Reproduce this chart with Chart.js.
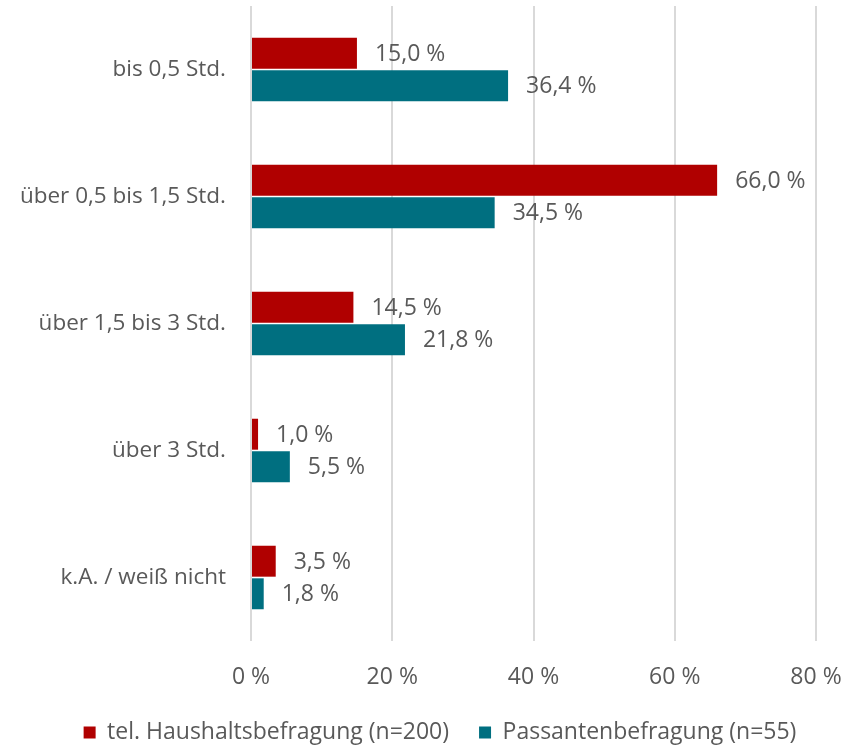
<!DOCTYPE html>
<html>
<head>
<meta charset="utf-8">
<script src="https://cdn.jsdelivr.net/npm/chart.js@4/dist/chart.umd.min.js"></script>
<style>
  html, body { margin: 0; padding: 0; background: #ffffff; }
  #wrap { width: 848px; height: 745px; position: relative; }
</style>
</head>
<body>
<div id="wrap"><canvas id="c" width="848" height="745"></canvas></div>
<script>
const categories = ['bis 0,5 Std.', 'über 0,5 bis 1,5 Std.', 'über 1,5 bis 3 Std.', 'über 3 Std.', 'k.A. / weiß nicht'];
const seriesNames = ['tel. Haushaltsbefragung (n=200)', 'Passantenbefragung (n=55)'];
const haushaltValues = [15.0, 66.0, 14.5, 1.0, 3.5];
const passantenValues = [36.4, 34.5, 21.8, 5.5, 1.8];
const xTicks = [0, 20, 40, 60, 80];

const TEXT = '#595959';
const FONT = "'Open Sans', 'Noto Sans', sans-serif";

const fmt = v => v.toFixed(1).replace('.', ',') + ' %';

const valueLabels = {
  id: 'valueLabels',
  afterDatasetsDraw(chart) {
    const ctx = chart.ctx;
    ctx.save();
    ctx.font = '23px ' + FONT;
    ctx.fillStyle = TEXT;
    ctx.textAlign = 'left';
    ctx.textBaseline = 'middle';
    chart.data.datasets.forEach((ds, di) => {
      const meta = chart.getDatasetMeta(di);
      meta.data.forEach((bar, i) => {
        ctx.fillText(fmt(ds.data[i]), bar.x + 18, bar.y + 1);
      });
    });
    ctx.restore();
  }
};

const layoutTweak = {
  id: 'layoutTweak',
  afterLayout(chart) {
    const lg = chart.legend;
    if (lg) {
      const dx = 32, dy = 9;
      lg.left += dx; lg.right += dx;
      lg.top += dy; lg.bottom += dy;
    }
    // let the x tick labels extend below the (compact) axis box without clipping
    chart.scales.x.bottom = chart.height;
  }
};

new Chart(document.getElementById('c'), {
  type: 'bar',
  data: {
    labels: categories,
    datasets: [
      { label: seriesNames[0], data: haushaltValues, backgroundColor: '#B00000',
        categoryPercentage: 0.513, barPercentage: 0.95 },
      { label: seriesNames[1], data: passantenValues, backgroundColor: '#006F80',
        categoryPercentage: 0.513, barPercentage: 0.95 }
    ]
  },
  options: {
    indexAxis: 'y',
    responsive: false,
    animation: false,
    devicePixelRatio: 1,
    layout: { autoPadding: false, padding: { top: 6, right: 32, left: 0, bottom: 0 } },
    font: { family: FONT },
    scales: {
      x: {
        min: 0, max: 80,
        afterBuildTicks(scale) { scale.ticks = xTicks.map(v => ({ value: v })); },
        grid: { color: '#D9D9D9', lineWidth: 2, drawTicks: false },
        border: { display: false },
        afterFit(scale) {
          scale.height = 41;
          scale.paddingLeft = 0; scale.paddingRight = 0;
          scale.paddingTop = 0; scale.paddingBottom = 0;
        },
        ticks: {
          padding: 23,
          color: TEXT,
          font: { size: 23, family: FONT },
          callback: v => v + ' %'
        }
      },
      y: {
        grid: { display: false, drawTicks: false },
        border: { display: false },
        afterFit(scale) {
          scale.width = 251;
          scale.paddingLeft = 0; scale.paddingRight = 0;
          scale.paddingTop = 0; scale.paddingBottom = 0;
        },
        ticks: {
          padding: 25,
          color: TEXT,
          font: { size: 22.5, family: FONT }
        }
      }
    },
    plugins: {
      legend: {
        position: 'bottom',
        labels: {
          color: TEXT,
          font: { size: 23, family: FONT },
          boxWidth: 12,
          boxHeight: 12,
          padding: 30
        }
      },
      tooltip: { enabled: false }
    }
  },
  plugins: [valueLabels, layoutTweak]
});
</script>
</body>
</html>
